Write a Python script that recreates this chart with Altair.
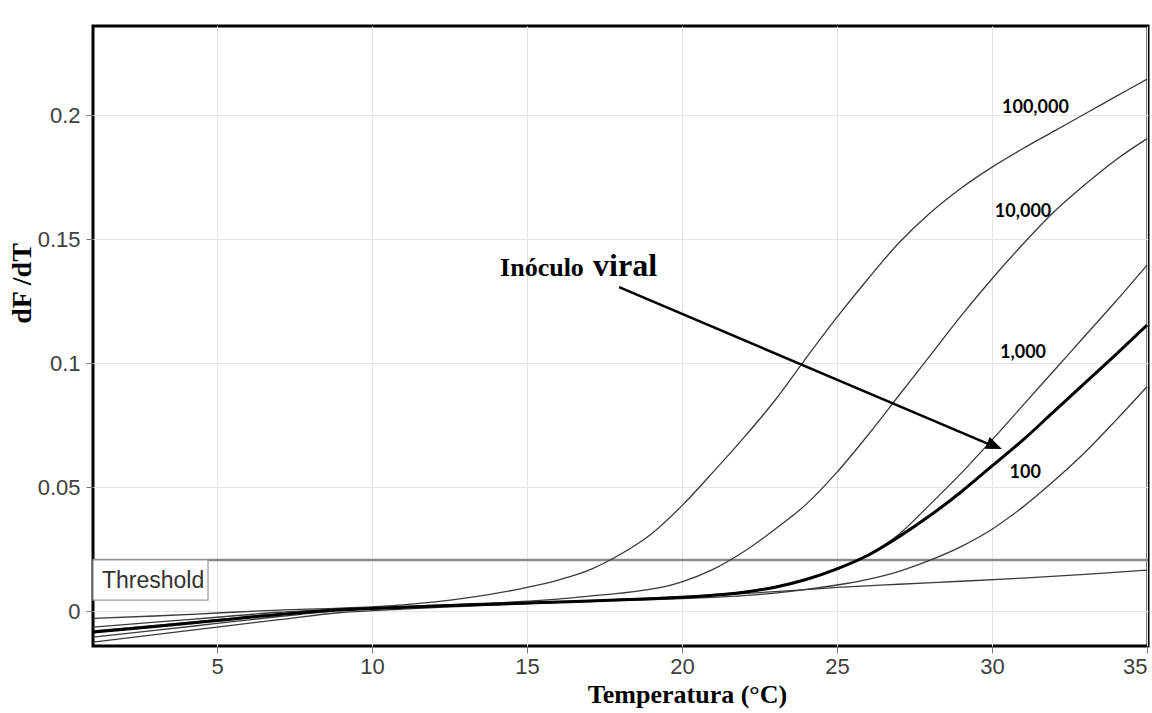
import altair as alt
import pandas as pd

# ---- data ----
xs = [1, 3, 5, 7, 9, 11, 13, 15, 16, 17, 18, 19, 20, 21, 22, 23, 24, 25, 26, 27, 28, 29, 30, 31, 32, 33, 34, 35]
c_100000 = [-0.003, -0.002, -0.0008, 0.0004, 0.0012, 0.0025, 0.0052, 0.0095, 0.0125, 0.0165, 0.0228, 0.031, 0.0425, 0.056,
            0.070, 0.085, 0.102, 0.1185, 0.134, 0.1485, 0.1605, 0.1705, 0.179, 0.1865, 0.1935, 0.2005, 0.2075, 0.2145]
c_10000 = [-0.0065, -0.0045, -0.0025, -0.0005, 0.0008, 0.0018, 0.0028, 0.004, 0.0048, 0.006, 0.0072, 0.0088, 0.0118, 0.0168,
           0.024, 0.033, 0.043, 0.056, 0.071, 0.087, 0.103, 0.119, 0.134, 0.148, 0.161, 0.172, 0.182, 0.1905]
c_1000 = [-0.008, -0.0058, -0.0035, -0.0012, 0.0006, 0.0016, 0.0025, 0.0034, 0.0038, 0.0042, 0.0047, 0.0052, 0.0058, 0.0066,
          0.0078, 0.0098, 0.0128, 0.0172, 0.0228, 0.031, 0.043, 0.0555, 0.069, 0.083, 0.097, 0.111, 0.125, 0.1395]
c_thick = [-0.0085, -0.0062, -0.0038, -0.0014, 0.0005, 0.0015, 0.0024, 0.0032, 0.0036, 0.004, 0.0045, 0.005, 0.0056, 0.0064,
           0.0076, 0.0096, 0.0127, 0.017, 0.0225, 0.030, 0.0385, 0.048, 0.0585, 0.069, 0.0805, 0.092, 0.1035, 0.1153]
c_100 = [-0.0105, -0.0078, -0.005, -0.0022, 0.0002, 0.0013, 0.0022, 0.003, 0.0034, 0.0038, 0.0042, 0.0046, 0.005, 0.0055,
         0.0062, 0.0072, 0.0087, 0.0105, 0.0128, 0.016, 0.0205, 0.026, 0.033, 0.042, 0.0525, 0.064, 0.077, 0.0905]
xs_flat = [1, 3, 5, 7, 9, 11, 13, 15, 17, 19, 21, 23, 25, 27, 29, 31, 33, 35]
c_flat = [-0.0125, -0.0095, -0.0065, -0.0035, -0.0006, 0.0008, 0.0019, 0.003, 0.004, 0.005, 0.0063, 0.0078, 0.0095,
          0.0108, 0.012, 0.0133, 0.0148, 0.0165]

threshold = 0.0206
label_text = ["100,000", "10,000", "1,000", "100"]
label_x = [31.4, 31.0, 31.0, 31.07]
label_y = [0.2028, 0.161, 0.104, 0.0556]

# ---- tables ----
rows = []
for name, vals in [("100000", c_100000), ("10000", c_10000), ("1000", c_1000), ("100", c_100)]:
    for x, y in zip(xs, vals):
        rows.append({"x": x, "y": y, "s": name})
for x, y in zip(xs_flat, c_flat):
    rows.append({"x": x, "y": y, "s": "flat"})
thin_df = pd.DataFrame(rows)
thick_df = pd.DataFrame({"x": xs, "y": c_thick})
labels_df = pd.DataFrame({"t": label_text, "x": label_x, "y": label_y})

X = alt.Scale(domain=[1, 35.03], nice=False, zero=False)
Y = alt.Scale(domain=[-0.0141, 0.2359], nice=False, zero=False)

xaxis = alt.Axis(values=[5, 10, 15, 20, 25, 30, 35], format="d", title="Temperatura (°C)",
                 titleFont="Liberation Serif", titleFontSize=26, titleFontWeight="bold", titleColor="black",
                 titleX=594, titleY=56, titleBaseline="alphabetic", titleAlign="center",
                 labelFont="Liberation Sans", labelFontSize=22, labelColor="#404040", labelPadding=3,
                 tickSize=7, tickColor="#777", grid=True, gridColor="#e4e4e4", domain=False)
yaxis = alt.Axis(values=[0, 0.05, 0.1, 0.15, 0.2], format="~g", title="dF /dT",
                 titleFont="Liberation Serif", titleFontSize=28, titleFontWeight="bold", titleColor="black",
                 titleX=-71, titleY=257, titleAngle=270, titleAlign="center", titleBaseline="middle",
                 labelFont="Liberation Sans", labelFontSize=22, labelColor="#404040", labelPadding=6,
                 tickSize=7, tickColor="#777", grid=True, gridColor="#e4e4e4", domain=False)

base_x = alt.X("x:Q", scale=X, axis=xaxis)
base_y = alt.Y("y:Q", scale=Y, axis=yaxis)

thin = alt.Chart(thin_df).mark_line(color="#3a3a3a", strokeWidth=1.3, interpolate="monotone", clip=True).encode(
    x=base_x, y=base_y, detail="s:N")
thick = alt.Chart(thick_df).mark_line(color="black", strokeWidth=3, interpolate="monotone", clip=True).encode(
    x="x:Q", y="y:Q")

thr_df = pd.DataFrame({"y": [threshold]})
thr = alt.Chart(thr_df).mark_rule(color="#8a8a8a", strokeWidth=2.5).encode(y="y:Q")

box_df = pd.DataFrame({"x": [1.0], "x2": [4.71], "y": [0.0044], "y2": [threshold]})
box = alt.Chart(box_df).mark_rect(fill="white", stroke="#9a9a9a", strokeWidth=1.2).encode(
    x="x:Q", x2="x2:Q", y="y:Q", y2="y2:Q")
thr_txt = alt.Chart(pd.DataFrame({"x": [1.29], "y": [0.0122], "t": ["Threshold"]})).mark_text(
    align="left", baseline="middle", font="Liberation Sans", fontSize=23, color="#333").encode(
    x="x:Q", y="y:Q", text="t:N")

labels = alt.Chart(labels_df).mark_text(font="Lato", fontWeight="bold", fontSize=18, color="black",
                                         align="center", baseline="middle").encode(x="x:Q", y="y:Q", text="t:N")

ino = alt.Chart(pd.DataFrame({"x": [14.13], "y": [0.135], "t": ["Inóculo"]})).mark_text(
    align="left", baseline="alphabetic", font="Liberation Serif", fontWeight="bold", fontSize=26, color="black").encode(
    x="x:Q", y="y:Q", text="t:N")
viral = alt.Chart(pd.DataFrame({"x": [17.13], "y": [0.135], "t": ["viral"]})).mark_text(
    align="left", baseline="alphabetic", font="Liberation Serif", fontWeight="bold", fontSize=32, color="black").encode(
    x="x:Q", y="y:Q", text="t:N")

arrow_df = pd.DataFrame({"x": [17.97], "y": [0.1306], "x2": [29.95], "y2": [0.0670]})
arrow = alt.Chart(arrow_df).mark_rule(color="black", strokeWidth=2.5).encode(
    x="x:Q", y="y:Q", x2="x2:Q", y2="y2:Q")
head = alt.Chart(pd.DataFrame({"x": [30.32], "y": [0.0653]})).mark_point(
    shape="M0,0L-2,-0.8L-2,0.8Z", size=256, angle=22.9, filled=True, fill="black", color="black",
    opacity=1, strokeWidth=0).encode(x="x:Q", y="y:Q")

chart = alt.layer(thr, box, thr_txt, thin, thick, labels, ino, viral, arrow, head).properties(
    width=1055, height=620,
    background="white",
    padding={"left": 93, "top": 26, "right": 4, "bottom": 67},
    autosize=alt.AutoSizeParams(type="none"),
).configure_view(stroke="black", strokeWidth=3)

chart.save("out.html", embed_options={"renderer": "svg", "actions": False})
